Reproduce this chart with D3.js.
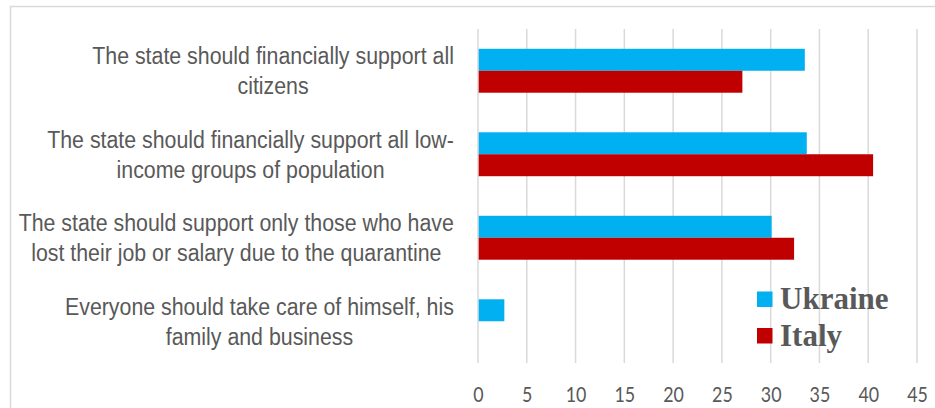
<!DOCTYPE html>
<html>
<head>
<meta charset="utf-8">
<script src="https://cdn.jsdelivr.net/npm/d3@7"></script>
<style>
  html, body { margin: 0; padding: 0; background: #fff; }
  svg { display: block; }
</style>
</head>
<body>
<svg id="chart" width="935" height="408"></svg>
<script>
// Survey answers (percent of respondents)
const categories = [
  "The state should financially support all citizens",
  "The state should financially support all low-income groups of population",
  "The state should support only those who have lost their job or salary due to the quarantine",
  "Everyone should take care of himself, his family and business"
];
const categoryLines = [
  ["The state should financially support all", "citizens"],
  ["The state should financially support all low-", "income groups of population"],
  ["The state should support only those who have", "lost their job or salary due to the quarantine"],
  ["Everyone should take care of himself, his", "family and business"]
];
const seriesNames = ["Ukraine", "Italy"];
const ukraine = [33.5, 33.7, 30.1, 2.7];
const italy = [27.1, 40.5, 32.4, 0];
const xTicks = [0, 5, 10, 15, 20, 25, 30, 35, 40, 45];
const colors = { Ukraine: "#00B0F0", Italy: "#C00000" };

const rows = categories.map((c, i) => ({ category: c, lines: categoryLines[i], Ukraine: ukraine[i], Italy: italy[i] }));

const svg = d3.select("#chart");
const textColor = "#595959";
const gridColor = "#d9d9d9";

// chart frame
svg.append("rect")
  .attr("x", 10.5).attr("y", 6.5)
  .attr("width", 940).attr("height", 420)
  .attr("fill", "none").attr("stroke", gridColor).attr("stroke-width", 1.5);

const plot = { left: 478, right: 917, top: 29, bottom: 363 };

const x = d3.scaleLinear().domain([0, 45]).range([plot.left, plot.right]);
const y = d3.scaleBand().domain(categories).range([plot.top, plot.bottom])
  .paddingInner(0.474).paddingOuter(0.237);
const ySub = d3.scaleBand().domain(seriesNames).range([0, y.bandwidth()]);

// vertical gridlines
svg.append("g").selectAll("line").data(xTicks).join("line")
  .attr("x1", d => x(d)).attr("x2", d => x(d))
  .attr("y1", plot.top).attr("y2", plot.bottom)
  .attr("stroke", gridColor).attr("stroke-width", 1.5);

// x axis tick labels
const xAxis = d3.axisBottom(x).tickValues(xTicks).tickSize(0).tickPadding(0);
const gx = svg.append("g").attr("transform", `translate(0,${plot.bottom})`).call(xAxis);
gx.select(".domain").remove();
gx.selectAll(".tick text")
  .attr("y", 0).attr("dy", null)
  .attr("transform", "translate(0,38.5) scale(0.85,1)")
  .attr("font-family", "Lato, 'Open Sans', sans-serif")
  .attr("font-size", 21)
  .attr("fill", textColor);

// bars
const groups = svg.append("g").selectAll("g").data(rows).join("g")
  .attr("transform", d => `translate(0,${y(d.category)})`);
groups.selectAll("rect")
  .data(d => seriesNames.map(s => ({ key: s, value: d[s] })))
  .join("rect")
  .attr("x", x(0) + 0.7)
  .attr("y", d => ySub(d.key))
  .attr("width", d => Math.max(0, x(d.value) - x(0) - 0.7))
  .attr("height", ySub.bandwidth())
  .attr("fill", d => colors[d.key]);

// category labels: wrapped, lines centred within a right-aligned block
const labelRight = 454;
const lineGap = 30;
const labelG = svg.append("g")
  .attr("font-family", "'Liberation Sans', Arial, sans-serif")
  .attr("font-size", 23)
  .attr("fill", textColor);
const sx = 0.928;
rows.forEach(r => {
  const cy = y(r.category) + y.bandwidth() / 2;
  const texts = r.lines.map((line, i) =>
    labelG.append("text").attr("text-anchor", "middle").text(line)
      .attr("data-baseline", cy - 6.5 + i * lineGap));
  const maxW = d3.max(texts, t => t.node().getComputedTextLength()) * sx;
  const cx = labelRight - maxW / 2;
  texts.forEach(t => {
    t.attr("transform", `translate(${cx},${+t.attr("data-baseline")}) scale(${sx},1)`)
      .attr("data-baseline", null);
  });
});

// legend
const legend = svg.append("g")
  .attr("font-family", "'Liberation Serif', 'Times New Roman', serif")
  .attr("font-weight", "bold")
  .attr("font-size", 31)
  .attr("fill", textColor);
const legendRows = [{ key: "Ukraine", y: 291.5 }, { key: "Italy", y: 328 }];
legend.selectAll("rect").data(legendRows).join("rect")
  .attr("x", 757).attr("y", d => d.y)
  .attr("width", 15.5).attr("height", 15.5)
  .attr("fill", d => colors[d.key]);
legend.selectAll("text").data(legendRows).join("text")
  .attr("x", 780).attr("y", d => d.y + 17.5)
  .text(d => d.key);
</script>
</body>
</html>
